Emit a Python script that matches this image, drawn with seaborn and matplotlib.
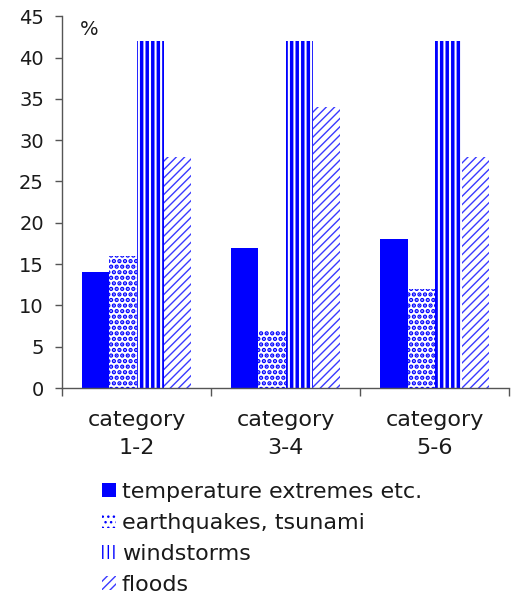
import numpy as np
import pandas as pd
import matplotlib
matplotlib.use('Agg')
import matplotlib.pyplot as plt
import seaborn as sns
from matplotlib.patches import Patch

categories = ['category\n1-2', 'category\n3-4', 'category\n5-6']
series = ['temperature extremes etc.', 'earthquakes, tsunami', 'windstorms', 'floods']
temperature = [14, 17, 18]
earthquakes = [16, 7, 12]
windstorms = [42, 42, 42]
floods = [28, 34, 28]

df = pd.DataFrame({
    'category': categories * 4,
    'series': np.repeat(series, 3),
    'value': temperature + earthquakes + windstorms + floods,
})

sns.set_style('white')
plt.rcParams['font.family'] = ['DejaVu Sans']
plt.rcParams['hatch.linewidth'] = 1.0
plt.rcParams['text.color'] = '#1a1a1a'
plt.rcParams['xtick.color'] = '#1a1a1a'
plt.rcParams['ytick.color'] = '#1a1a1a'

blue = '#0000FF'
hatches = ['', '...', '|||', '////']
facecols = [blue, 'white', 'white', 'white']
edgecols = [blue, blue, blue, '#3a3aff']
hatch_lw = [1.0, 2.2, 2.5, 1.0]

fig = plt.figure(figsize=(5.17, 5.99), dpi=100)
ax = fig.add_axes([0.12, 0.352, 0.865, 0.621])
sns.barplot(data=df, x='category', y='value', hue='series', order=categories,
            hue_order=series, width=0.73, ax=ax, legend=False, saturation=1)


def style_patch(p, i):
    p.set_facecolor(facecols[i])
    p.set_edgecolor(edgecols[i])
    p.set_linewidth(0)
    p.set_hatch(hatches[i])
    try:
        p.set_hatch_linewidth(hatch_lw[i])
    except AttributeError:
        pass


for i, cont in enumerate(ax.containers):
    for bar in cont:
        style_patch(bar, i)

ax.set_ylim(0, 45)
ax.set_xlim(-0.5, 2.5)
ax.set_yticks(np.arange(0, 46, 5))
ax.set_xlabel('')
ax.set_ylabel('')
for s in ['top', 'right']:
    ax.spines[s].set_visible(False)
for s in ['left', 'bottom']:
    ax.spines[s].set_color('#555555')
    ax.spines[s].set_linewidth(1)
ax.tick_params(axis='y', direction='out', length=5, width=1, color='#555555',
               labelsize=14, left=True, pad=8)
ax.tick_params(axis='x', which='major', length=0, labelsize=16, pad=16)
for lab in ax.get_xticklabels():
    lab.set_linespacing(1.45)
ax.set_xticks([-0.5, 0.5, 1.5, 2.5], minor=True)
ax.tick_params(axis='x', which='minor', direction='out', length=6, width=1,
               color='#555555', bottom=True)
ax.text(0.04, 0.99, '%', transform=ax.transAxes, fontsize=14, va='top', ha='left')

handles = []
for i in range(4):
    h = Patch()
    style_patch(h, i)
    handles.append(h)
fig.legend(handles, series, loc='upper left', bbox_to_anchor=(0.197, 0.196),
           frameon=False, fontsize=16, handlelength=0.63, handleheight=0.63,
           handletextpad=0.27, labelspacing=0.5, borderaxespad=0, borderpad=0)

fig.savefig('out.png', dpi=100)
